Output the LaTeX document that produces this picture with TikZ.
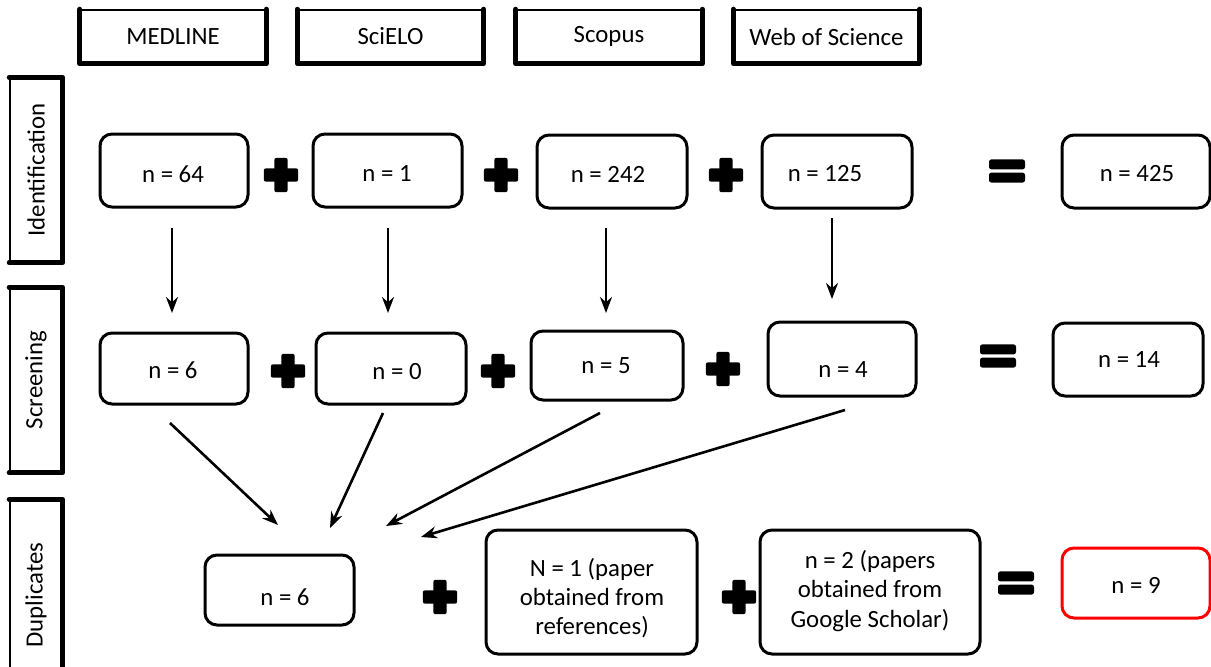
\documentclass[tikz,border=0pt]{standalone}
\usepackage{fontspec}
\setmainfont{Carlito}
\usetikzlibrary{arrows.meta}
\begin{document}
\begin{tikzpicture}[x=0.5pt,y=-0.5pt,
  every node/.style={font=\fontsize{12.4}{14.6}\selectfont},
  cbox/.style={draw, line width=1.5pt, rounded corners=6pt, inner sep=0pt},
  txt/.style={align=center, inner sep=0pt},
  dbbox/.style={draw, line width=0.7pt, inner sep=0pt, minimum width=92.5pt, minimum height=26.5pt},
  phbox/.style={draw, line width=0.7pt, inner sep=0pt, minimum width=26pt},
  thickedge/.style={line width=2.6pt, line cap=round, line join=round},
  plusnode/.style={minimum size=18pt, inner sep=0pt, path picture={
      \fill[rounded corners=1pt] ([xshift=-8.6pt,yshift=-3.3pt]path picture bounding box.center) rectangle ([xshift=8.6pt,yshift=3.3pt]path picture bounding box.center);
      \fill[rounded corners=1pt] ([xshift=-3.3pt,yshift=-8.6pt]path picture bounding box.center) rectangle ([xshift=3.3pt,yshift=8.6pt]path picture bounding box.center);}},
  eqnode/.style={minimum width=19pt, minimum height=13pt, inner sep=0pt, path picture={
      \fill[rounded corners=1.2pt] ([xshift=-9pt,yshift=0.8pt]path picture bounding box.center) rectangle ([xshift=9pt,yshift=5.8pt]path picture bounding box.center);
      \fill[rounded corners=1.2pt] ([xshift=-9pt,yshift=-0.8pt]path picture bounding box.center) rectangle ([xshift=9pt,yshift=-5.8pt]path picture bounding box.center);}},
  arr/.style={line width=1.3pt, -{Stealth[length=8pt,width=6pt]}}
]
\useasboundingbox (0,0) rectangle (1211,666);

% database headers
\node[dbbox] (medline) at (173,36.5) {MEDLINE};
\node[dbbox] (scielo) at (390.5,36.5) {SciELO};
\node[dbbox] (scopus) at (609,36.5) {\raisebox{2pt}{Scopus}};
\node[dbbox] (wos) at (826.5,36.5) {Web of Science};
\foreach \d in {medline,scielo,scopus,wos}
  \draw[thickedge] (\d.north west) -- (\d.south west) -- (\d.south east) -- (\d.north east);

% phase labels
\node[phbox, minimum height=92pt] (ident) at (36,170) {\rotatebox{90}{Identification}};
\node[phbox, minimum height=92pt] (screen) at (36,380) {\rotatebox{90}{Screening}};
\node[phbox, minimum height=95pt] (dupl) at (36,595) {\rotatebox{90}{Duplicates}};
\foreach \d in {ident,screen,dupl}
  \draw[thickedge] (\d.north west) -- (\d.north east) -- (\d.south east) -- (\d.south west);

% identification row
\node[cbox, minimum width=74pt, minimum height=36.5pt] (i1) at (174,170.5) {};
\node[cbox, minimum width=74.5pt, minimum height=36.5pt] (i2) at (387.5,170.5) {};
\node[cbox, minimum width=75pt, minimum height=36.5pt] (i3) at (612,171.5) {};
\node[cbox, minimum width=75pt, minimum height=36.5pt] (i4) at (837,171.5) {};
\node[cbox, minimum width=74pt, minimum height=36.5pt] (i5) at (1136,171.5) {};
\node[txt] (ti1) at (173,174) {n = 64};
\node[txt] (ti2) at (387,174) {n = 1};
\node[txt] (ti3) at (608,174) {n = 242};
\node[txt] (ti4) at (825,174) {n = 125};
\node[txt] (ti5) at (1137,174) {n = 425};
\node[plusnode] (ip1) at (281,175) {};
\node[plusnode] (ip2) at (501,175) {};
\node[plusnode] (ip3) at (726,175) {};
\node[eqnode] (ie) at (1007,171) {};

% screening row
\node[cbox, minimum width=74pt, minimum height=35.5pt] (s1) at (174,368.5) {};
\node[cbox, minimum width=75pt, minimum height=35.5pt] (s2) at (391,368.5) {};
\node[cbox, minimum width=76pt, minimum height=34.5pt] (s3) at (607,365.5) {};
\node[cbox, minimum width=74pt, minimum height=37pt] (s4) at (842,359) {};
\node[cbox, minimum width=75pt, minimum height=36.5pt] (s5) at (1128,359.5) {};
\node[txt] (ts1) at (173,370) {n = 6};
\node[txt] (ts2) at (397,372) {n = 0};
\node[txt] (ts3) at (606,366) {n = 5};
\node[txt] (ts4) at (843,370) {n = 4};
\node[txt] (ts5) at (1129,360) {n = 14};
\node[plusnode] (sp1) at (288,371) {};
\node[plusnode] (sp2) at (498,371) {};
\node[plusnode] (sp3) at (723,369) {};
\node[eqnode] (se) at (998,356) {};

% duplicates row
\node[cbox, minimum width=74.5pt, minimum height=35pt] (d1) at (279.5,590) {};
\node[txt] (td1) at (285,597) {n = 6};
\node[plusnode] (dp1) at (440,597) {};
\node[cbox, minimum width=105.5pt, minimum height=62pt] (d2) at (591.5,592) {};
\node[txt] (td2) at (592,598) {N = 1 (paper\\obtained from\\references)};
\node[plusnode] (dp2) at (739,597) {};
\node[cbox, minimum width=110pt, minimum height=62pt] (d3) at (870,592) {};
\node[txt] (td3) at (870,591) {n = 2 (papers\\obtained from\\Google Scholar)};
\node[eqnode] (de) at (1016,583) {};
\node[cbox, draw=red, minimum width=74pt, minimum height=35pt] (d4) at (1136,583) {};
\node[txt] (td4) at (1136,585) {n = 9};

% arrows identification -> screening
\coordinate (a1s) at (172,228); \coordinate (a1e) at (172,313);
\coordinate (a2s) at (388,228); \coordinate (a2e) at (388,313);
\coordinate (a3s) at (606,228); \coordinate (a3e) at (606,313);
\coordinate (a4s) at (832,218); \coordinate (a4e) at (832,299);
\draw[arr] (a1s) -- (a1e);
\draw[arr] (a2s) -- (a2e);
\draw[arr] (a3s) -- (a3e);
\draw[arr] (a4s) -- (a4e);

% arrows screening -> duplicates
\coordinate (b1s) at (170,423); \coordinate (b1e) at (278,525);
\coordinate (b2s) at (383,413); \coordinate (b2e) at (330,528);
\coordinate (b3s) at (600,413); \coordinate (b3e) at (386,526);
\coordinate (b4s) at (845,410); \coordinate (b4e) at (421,537);
\draw[arr] (b1s) -- (b1e);
\draw[arr] (b2s) -- (b2e);
\draw[arr] (b3s) -- (b3e);
\draw[arr] (b4s) -- (b4e);
\end{tikzpicture}
\end{document}
